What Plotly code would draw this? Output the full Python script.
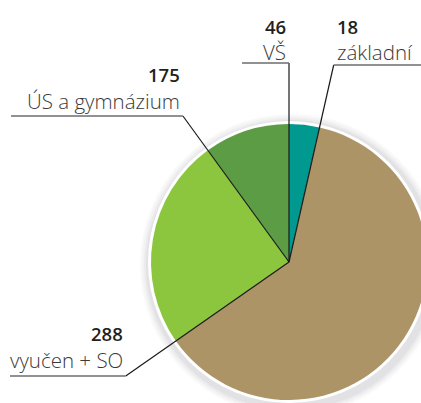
import math
import plotly.graph_objects as go

# ---- data ----
categories = ["teal", "brown", "light green", "dark green"]
slice_shares = [3.55, 61.75, 24.7, 10.0]          # % of the circle
slice_colors = ["#00998f", "#ad9467", "#8cc63f", "#5b9c44"]

label_numbers = ["46", "18", "288", "175"]
label_names = ["VŠ", "základní", "vyučen + SO", "ÚS a gymnázium"]
# boundary index (cumulative share after n slices) each label's leader line follows
label_boundary = [0, 1, 2, 3]

# ---- geometry (pixels) ----
W, H = 450, 420
CX, CY, R = 289, 262, 138


def dom(cx, cy, r):
    return dict(x=[(cx - r) / W, (cx + r) / W], y=[(H - cy - r) / H, (H - cy + r) / H])


def px(x):
    return x / W


def py(y):
    return (H - y) / H


fig = go.Figure()

# soft shadow
for k, a in [(10, 0.035), (8, 0.04), (6, 0.05), (4, 0.06)]:
    fig.add_trace(go.Pie(values=[1], marker=dict(colors=[f"rgba(90,90,110,{a})"]),
                         domain=dom(CX + 2, CY + 3, R + 3 + k), textinfo="none",
                         hoverinfo="skip", showlegend=False, sort=False))
# white rim
fig.add_trace(go.Pie(values=[1], marker=dict(colors=["white"]), domain=dom(CX, CY, R + 3),
                     textinfo="none", hoverinfo="skip", showlegend=False, sort=False))
# main pie
fig.add_trace(go.Pie(labels=categories, values=slice_shares,
                     marker=dict(colors=slice_colors, line=dict(width=0)),
                     domain=dom(CX, CY, R), sort=False, direction="clockwise", rotation=0,
                     textinfo="none", showlegend=False))

# cumulative boundary angles
total = sum(slice_shares)
bounds = [0.0]
for v in slice_shares:
    bounds.append(bounds[-1] + v / total * 360)


def ray_x(theta_deg, y):
    t = math.radians(theta_deg)
    s = (y - CY) / (-math.cos(t))
    return CX + s * math.sin(t)


# label layout: (line y, horizontal line far end x, side, number y, name y)
layout_spec = [
    (63, 242, "left", 27, 52),
    (65, 450, "right", 27, 52),
    (376, 10, "left", 333, 360),
    (116, 11, "left", 74, 101),
]

shapes = []
annotations = []
for i, (ly, xfar, side, ny, namey) in enumerate(layout_spec):
    theta = bounds[label_boundary[i]]
    xr = ray_x(theta, ly)
    shapes.append(dict(type="line", xref="paper", yref="paper", x0=px(CX), y0=py(CY),
                       x1=px(xr), y1=py(ly), line=dict(color="#1a1a1a", width=1.2)))
    shapes.append(dict(type="line", xref="paper", yref="paper", x0=px(xr), y0=py(ly),
                       x1=px(xfar), y1=py(ly), line=dict(color="#6d6d6d", width=1.6)))
    if side == "left":
        ax, anc = xr - 1, "right"
    else:
        ax, anc = xr + 1, "left"
    annotations.append(dict(x=px(ax), y=py(ny), xref="paper", yref="paper", xanchor=anc,
                            yanchor="middle", showarrow=False, text=label_numbers[i],
                            font=dict(family="Open Sans", size=18.5, color="#231f20", weight=600)))
    annotations.append(dict(x=px(ax), y=py(namey), xref="paper", yref="paper", xanchor=anc,
                            yanchor="middle", showarrow=False, text=label_names[i],
                            font=dict(family="Open Sans", size=20.5, color="#3a3a3a", weight=300)))

fig.update_layout(width=W, height=H, margin=dict(l=0, r=0, t=0, b=0),
                  paper_bgcolor="white", plot_bgcolor="white",
                  shapes=shapes, annotations=annotations, showlegend=False)

fig.write_html("out.html",
               post_script="document.documentElement.style.overflow='hidden';document.body.style.overflow='hidden';document.body.style.margin='0';")
